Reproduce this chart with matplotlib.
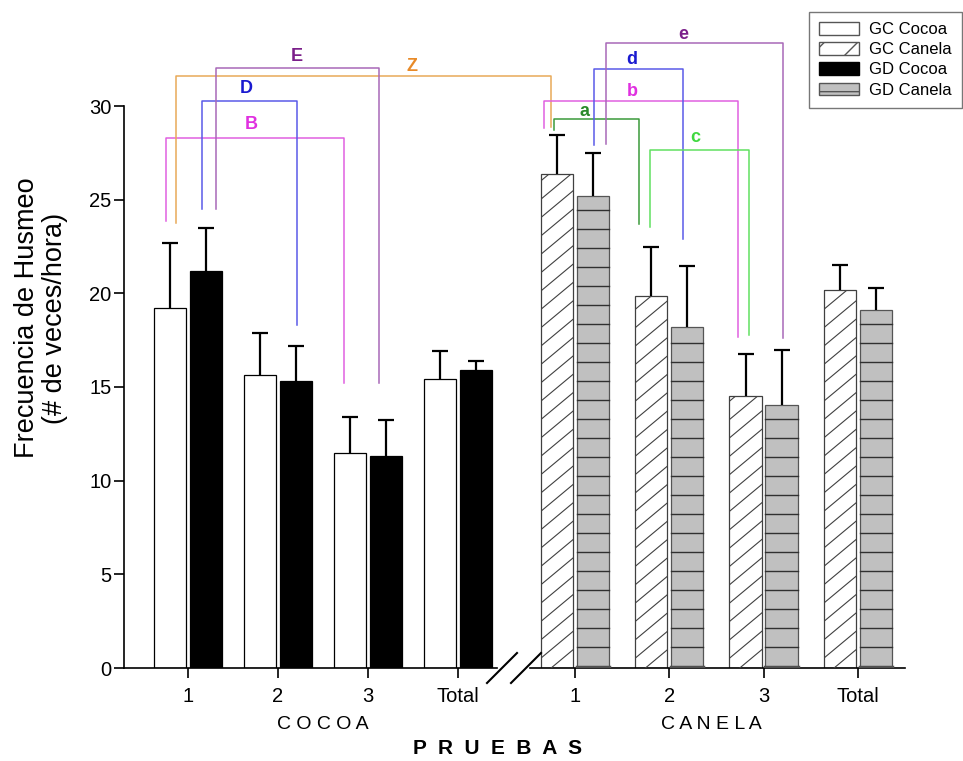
import matplotlib
matplotlib.use('Agg')
import matplotlib.pyplot as plt
from matplotlib.patches import Patch
import numpy as np

plt.rcParams['font.family'] = ['Liberation Sans', 'DejaVu Sans']

tick_labels = ['1', '2', '3', 'Total']
cocoa_pos = [0, 1, 2, 3]
canela_pos = [4.3, 5.348, 6.396, 7.444]

gc_cocoa = [19.2, 15.65, 11.5, 15.45]
gc_cocoa_err = [3.5, 2.25, 1.9, 1.45]
gd_cocoa = [21.2, 15.3, 11.3, 15.9]
gd_cocoa_err = [2.3, 1.9, 1.95, 0.5]
gc_canela = [26.35, 19.85, 14.5, 20.2]
gc_canela_err = [2.1, 2.6, 2.27, 1.3]
gd_canela = [25.2, 18.2, 14.05, 19.1]
gd_canela_err = [2.3, 3.25, 2.9, 1.2]

# significance brackets: label, x left, x right, y left end, y top, y right end,
# label x, label y, line colour, label colour
brackets = [
    ('B', -0.248, 1.737, 23.88, 28.28, 15.21, 0.708, 28.99, '#e060e0', '#e030e0'),
    ('D', 0.159, 1.208, 24.49, 30.27, 18.31, 0.652, 30.95, '#5a5ae8', '#1a1ad0'),
    ('Z', -0.133, 4.033, 23.77, 31.6, 28.9, 2.486, 32.1, '#e8aa58', '#e88a28'),
    ('E', 0.308, 2.126, 24.49, 32.01, 15.21, 1.214, 32.63, '#a868b8', '#7b1f8a'),
    ('a', 4.07, 5.011, 28.72, 29.29, 23.7, 4.411, 29.7, '#3a9a3a', '#2a8a2a'),
    ('b', 3.956, 6.114, 28.81, 30.28, 17.69, 4.937, 30.76, '#e060e0', '#e030e0'),
    ('d', 4.511, 5.497, 27.92, 31.98, 22.88, 4.93, 32.46, '#5a5ae8', '#1a1ad0'),
    ('c', 5.133, 6.233, 23.56, 27.65, 17.78, 5.641, 28.33, '#60e060', '#40d840'),
    ('e', 4.644, 6.614, 27.97, 33.35, 17.6, 5.503, 33.84, '#a868b8', '#7b1f8a'),
]

W = 0.36
OFF = 0.2

fig = plt.figure(figsize=(9.63, 7.61), dpi=100)
ax = fig.add_axes([124/963, 93/761, 781/963, 562/761])
ax.set_xlim(-0.711, 7.967)
ax.set_ylim(0, 30)


def bars(pos, h, err, sign, **kw):
    xs = np.array(pos) + sign*OFF
    h = np.array(h)
    top = h + np.array(err)
    b = ax.bar(xs, h, W, zorder=2, **kw)
    # one-sided error bars with a cap only at the top
    ax.vlines(xs, h, top, color='black', lw=1.6, zorder=3)
    ax.plot(xs, top, ls='none', marker='_', markersize=12, mew=1.6, color='black', zorder=3)
    return b


def diag_hatch(bar):
    x0, w, h = bar.get_x(), bar.get_width(), bar.get_height()
    k = 4.0
    for c in np.arange(-k*w, h, 0.98):
        ln, = ax.plot([x0, x0+w], [c, c+k*w], color='#404040', lw=0.8, zorder=2.5)
        ln.set_clip_path(bar)


def line_hatch(bar):
    x0, w, h = bar.get_x(), bar.get_width(), bar.get_height()
    for y in np.arange(1.13, h, 1.015):
        ax.plot([x0, x0+w], [y, y], color='#303030', lw=1.0, zorder=2.5)
    ax.plot([x0, x0+w], [0.08, 0.08], color='#505050', lw=2.5, zorder=2.5)


bars(cocoa_pos, gc_cocoa, gc_cocoa_err, -1, color='white', edgecolor='black', linewidth=0.9)
bars(cocoa_pos, gd_cocoa, gd_cocoa_err, 1, color='black', edgecolor='black', linewidth=0.9)
hb = bars(canela_pos, gc_canela, gc_canela_err, -1, color='white', edgecolor='#404040', linewidth=0.9)
gb = bars(canela_pos, gd_canela, gd_canela_err, 1, color='#c0c0c0', edgecolor='#555555', linewidth=0.9)
for b in hb:
    diag_hatch(b)
for b in gb:
    line_hatch(b)

for lab, xl, xr, yl, yt, yr, tx, ty, lc, tc in brackets:
    ax.plot([xl, xl, xr, xr], [yl, yt, yt, yr], color=lc, lw=1.1, clip_on=False, zorder=4)
    ax.text(tx, ty, lab, color=tc, fontsize=13, fontweight='bold',
            ha='center', va='center', clip_on=False)

# axes
for s in ['top', 'right', 'bottom']:
    ax.spines[s].set_visible(False)
ax.spines['left'].set_linewidth(1.2)
ax.spines['left'].set_bounds(0, 30)
ax.set_yticks(range(0, 31, 5))
ax.set_xticks(cocoa_pos + canela_pos, tick_labels * 2)
ax.tick_params(axis='y', length=7, width=1.2, pad=2, labelsize=14.5)
ax.tick_params(axis='x', length=7, width=1.2, pad=7, labelsize=14.5)

# broken x axis
ax.plot([0, (497-124)/781], [0, 0], color='black', lw=1.2, transform=ax.transAxes, clip_on=False)
ax.plot([(530-124)/781, 1], [0, 0], color='black', lw=1.2, transform=ax.transAxes, clip_on=False)
for x0 in [487, 511]:
    ax.plot([(x0-124)/781, (x0+30-124)/781], [-15/562, 15/562], color='black', lw=1.5,
            transform=ax.transAxes, clip_on=False)

xt = ax.get_xaxis_transform()
ax.text(np.mean(cocoa_pos[1:3]), -0.101, 'C O C O A', transform=xt, ha='center', va='center', fontsize=14)
ax.text(5.82, -0.101, 'C A N E L A', transform=xt, ha='center', va='center', fontsize=14)
fig.text(498/963, 1-748/761, 'P  R  U  E  B  A  S', ha='center', va='center', fontsize=15, fontweight='bold')
fig.text(41/963, 1-318/761, 'Frecuencia de Husmeo\n(# de veces/hora)', rotation=90,
         ha='center', va='center', fontsize=19.5, linespacing=1.1)

handles = [
    Patch(facecolor='white', edgecolor='#555555', label='GC Cocoa'),
    Patch(facecolor='white', edgecolor='#555555', hatch='/', label='GC Canela'),
    Patch(facecolor='black', edgecolor='black', label='GD Cocoa'),
    Patch(facecolor='#c0c0c0', edgecolor='#555555', hatch='-', label='GD Canela'),
]
leg = fig.legend(handles=handles, loc='upper left', bbox_to_anchor=(809/963, 1-12/761),
                 fontsize=12, frameon=True, fancybox=False, handlelength=2.4, handleheight=0.8,
                 handletextpad=0.6, labelspacing=0.3, borderpad=0.6, borderaxespad=0)
leg.get_frame().set_edgecolor('#555555')
leg.get_frame().set_linewidth(1.0)

fig.savefig('out.png', dpi=100)
